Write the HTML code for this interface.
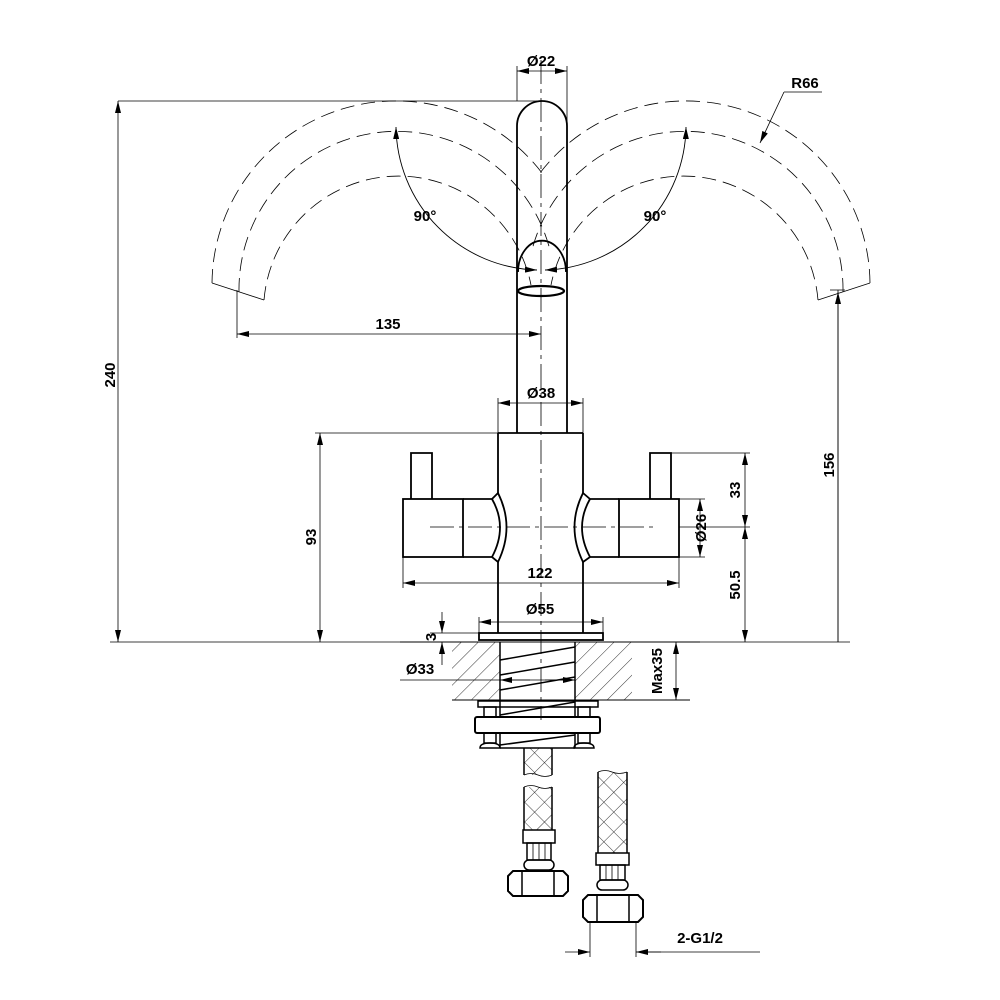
<!DOCTYPE html>
<html><head><style>html,body{margin:0;padding:0;background:#fff}svg{display:block}text{font-family:"Liberation Sans",Arial,sans-serif;font-weight:bold;font-size:15px;fill:#000}</style></head>
<body>
<svg width="1000" height="1000" viewBox="0 0 1000 1000" xmlns="http://www.w3.org/2000/svg">
<defs>
<marker id="a" viewBox="0 0 12 6" refX="12" refY="3" markerWidth="12" markerHeight="6" orient="auto-start-reverse" markerUnits="userSpaceOnUse"><path d="M0,0 L12,3 L0,6z" fill="#000"/></marker>
<pattern id="h" width="12" height="12" patternUnits="userSpaceOnUse" patternTransform="rotate(45)"><line x1="0" y1="0" x2="0" y2="12" stroke="#000" stroke-width="0.8"/></pattern>
<pattern id="x" width="14" height="14" patternUnits="userSpaceOnUse" patternTransform="rotate(45)"><path d="M0,0 L0,14 M0,0 L14,0" stroke="#000" stroke-width="0.8"/></pattern>
</defs>
<g fill="none" stroke="#000" stroke-width="0.9">
<g stroke-dasharray="14,7" stroke-width="0.8">
<path d="M212,283 A184,184 0 0 1 545,177"/>
<path d="M239,292 A158,158 0 0 1 550,250"/>
<path d="M264,300 A135,135 0 0 1 531,285"/>
<path d="M870,283 A184,184 0 0 0 537,177"/>
<path d="M843,292 A158,158 0 0 0 532,250"/>
<path d="M818,300 A135,135 0 0 0 551,285"/>
</g>
<path d="M212,283 L264,300 M870,283 L818,300" stroke-width="0.8"/>
<path d="M396,127 A145,145 0 0 0 537,270" marker-start="url(#a)" marker-end="url(#a)"/>
<path d="M686,127 A145,145 0 0 1 545,270" marker-start="url(#a)" marker-end="url(#a)"/>
<path d="M517,433 L517,126 A25,25 0 0 1 567,126 L567,433" stroke-width="1.8"/>
<path d="M518,272 A23,30 0 0 1 566,272" stroke-width="1.8"/>
<ellipse cx="541" cy="291" rx="23" ry="5" stroke-width="2.2"/>
<g stroke-dasharray="24,5,4,5" stroke-width="0.8">
<line x1="541" y1="60" x2="541" y2="720"/>
<line x1="430" y1="527" x2="655" y2="527"/>
</g>
<g stroke-width="1.8">
<path d="M498,433 L583,433 M498,433 L498,493 M498,562 L498,633 M583,433 L583,493 M583,562 L583,633"/>
<rect x="403" y="499" width="60" height="58"/>
<path d="M463,499 L492,499 L498,493 Q515,527 498,562 L492,557 L463,557"/>
<path d="M492,499 Q508,527 492,557"/>
<path d="M411,499 L411,453 L432,453 L432,499"/>
<rect x="619" y="499" width="60" height="58"/>
<path d="M619,499 L590,499 L583,493 Q566,527 583,562 L590,557 L619,557"/>
<path d="M590,499 Q574,527 590,557"/>
<path d="M650,499 L650,453 L671,453 L671,499"/>
<rect x="479" y="633" width="124" height="7"/>
</g>
<rect x="452" y="642" width="48" height="58" fill="url(#h)" stroke="none"/>
<rect x="575" y="642" width="57" height="58" fill="url(#h)" stroke="none"/>
<line x1="400" y1="642" x2="700" y2="642"/>
<line x1="452" y1="700" x2="690" y2="700"/>
<g stroke-width="1.5">
<path d="M500,642 L500,717 M575,642 L575,717 M500,733 L500,748 M575,733 L575,748"/>
<path d="M500,660 L575,647 M500,675 L575,662 M500,690 L575,677 M500,715 L575,702 M500,745 L575,735"/>
<rect x="478" y="701" width="120" height="6"/>
<rect x="475" y="717" width="125" height="16" rx="2" stroke-width="2"/>
<rect x="484" y="707" width="12" height="10"/><rect x="578" y="707" width="12" height="10"/>
<rect x="484" y="733" width="12" height="10"/><rect x="578" y="733" width="12" height="10"/>
<path d="M480,748 Q480,743 490,743 Q500,743 500,748 Z M574,748 Q574,743 584,743 Q594,743 594,748 Z"/>
<path d="M500,748 L575,748"/>
</g>
<rect x="524" y="748" width="28" height="27" fill="url(#x)" stroke="none"/>
<rect x="524" y="787" width="28" height="43" fill="url(#x)" stroke="none"/>
<g stroke-width="1.5">
<path d="M524,748 L524,775 M552,748 L552,775 M524,787 L524,830 M552,787 L552,830"/>
<path d="M524,775 q7,-3 14,0 t14,0 M524,787 q7,-3 14,0 t14,0" stroke-width="0.8"/>
<rect x="523" y="830" width="32" height="13"/>
<rect x="527" y="843" width="24" height="17"/>
<path d="M533,843 L533,860 M539,843 L539,860 M545,843 L545,860" stroke-width="0.8"/>
<rect x="524" y="860" width="30" height="10" rx="5"/>
<path d="M513,871 L563,871 L568,876 L568,891 L563,896 L513,896 L508,891 L508,876 Z" stroke-width="2"/>
<path d="M522,871 L522,896 M554,871 L554,896"/>
</g>
<rect x="598" y="772" width="29" height="81" fill="url(#x)" stroke="none"/>
<g stroke-width="1.5">
<path d="M598,772 L598,853 M627,772 L627,853"/>
<path d="M598,772 q7,-3 14,0 t15,0" stroke-width="0.8"/>
<rect x="596" y="853" width="33" height="12"/>
<rect x="600" y="865" width="25" height="15"/>
<path d="M606,865 L606,880 M612,865 L612,880 M618,865 L618,880" stroke-width="0.8"/>
<rect x="597" y="880" width="31" height="10" rx="5"/>
<path d="M588,895 L638,895 L643,900 L643,917 L638,922 L588,922 L583,917 L583,900 Z" stroke-width="2"/>
<path d="M597,895 L597,922 M629,895 L629,922"/>
</g>
<g stroke-width="0.8">
<path d="M118,101 L541,101 M110,642 L850,642"/>
<line x1="118" y1="101" x2="118" y2="642" marker-start="url(#a)" marker-end="url(#a)"/>
<path d="M315,433 L498,433"/>
<line x1="320" y1="433" x2="320" y2="642" marker-start="url(#a)" marker-end="url(#a)"/>
<path d="M838,290 L838,642 M830,290 L845,290"/>
<line x1="838" y1="292" x2="838" y2="642" marker-start="url(#a)"/>
<path d="M671,453 L750,453 M679,527 L750,527"/>
<line x1="745" y1="453" x2="745" y2="527" marker-start="url(#a)" marker-end="url(#a)"/>
<line x1="745" y1="527" x2="745" y2="642" marker-start="url(#a)" marker-end="url(#a)"/>
<path d="M679,499 L705,499 M679,557 L705,557"/>
<line x1="700" y1="499" x2="700" y2="557" marker-start="url(#a)" marker-end="url(#a)"/>
<path d="M403,557 L403,588 M679,557 L679,588"/>
<line x1="403" y1="583" x2="679" y2="583" marker-start="url(#a)" marker-end="url(#a)"/>
<path d="M479,617 L479,633 M603,617 L603,633"/>
<line x1="479" y1="622" x2="603" y2="622" marker-start="url(#a)" marker-end="url(#a)"/>
<path d="M498,398 L498,433 M583,398 L583,433"/>
<line x1="498" y1="403" x2="583" y2="403" marker-start="url(#a)" marker-end="url(#a)"/>
<path d="M517,66 L517,101 M567,66 L567,126"/>
<line x1="517" y1="71" x2="567" y2="71" marker-start="url(#a)" marker-end="url(#a)"/>
<path d="M237,290 L237,338"/>
<line x1="237" y1="334" x2="541" y2="334" marker-start="url(#a)" marker-end="url(#a)"/>
<path d="M785,92 L822,92 L784,92"/>
<line x1="784" y1="92" x2="760" y2="143" marker-end="url(#a)"/>
<path d="M430,633 L479,633"/>
<line x1="442" y1="612" x2="442" y2="633" marker-end="url(#a)"/>
<line x1="442" y1="665" x2="442" y2="642" marker-end="url(#a)"/>
<line x1="400" y1="680" x2="575" y2="680"/>
<line x1="530" y1="680" x2="500" y2="680" marker-end="url(#a)"/>
<line x1="545" y1="680" x2="575" y2="680" marker-end="url(#a)"/>
<line x1="676" y1="642" x2="676" y2="700" marker-start="url(#a)" marker-end="url(#a)"/>
<path d="M590,922 L590,957 M636,922 L636,957"/>
<line x1="565" y1="952" x2="590" y2="952" marker-end="url(#a)"/>
<line x1="661" y1="952" x2="636" y2="952" marker-end="url(#a)"/>
<line x1="636" y1="952" x2="760" y2="952"/>
</g>
</g>
<text x="541" y="66" text-anchor="middle">Ø22</text>
<text x="805" y="88" text-anchor="middle">R66</text>
<text x="425" y="221" text-anchor="middle">90°</text>
<text x="655" y="221" text-anchor="middle">90°</text>
<text x="388" y="329" text-anchor="middle">135</text>
<text x="541" y="398" text-anchor="middle">Ø38</text>
<text x="540" y="578" text-anchor="middle">122</text>
<text x="540" y="614" text-anchor="middle">Ø55</text>
<text x="420" y="674" text-anchor="middle">Ø33</text>
<text x="700" y="943" text-anchor="middle">2-G1/2</text>
<text transform="translate(115,375) rotate(-90)" text-anchor="middle">240</text>
<text transform="translate(316,537) rotate(-90)" text-anchor="middle">93</text>
<text transform="translate(834,465) rotate(-90)" text-anchor="middle">156</text>
<text transform="translate(740,490) rotate(-90)" text-anchor="middle">33</text>
<text transform="translate(740,585) rotate(-90)" text-anchor="middle">50.5</text>
<text transform="translate(706,528) rotate(-90)" text-anchor="middle">Ø26</text>
<text transform="translate(436,637) rotate(-90)" text-anchor="middle">3</text>
<text transform="translate(662,671) rotate(-90)" text-anchor="middle">Max35</text>
</svg>
</body></html>
